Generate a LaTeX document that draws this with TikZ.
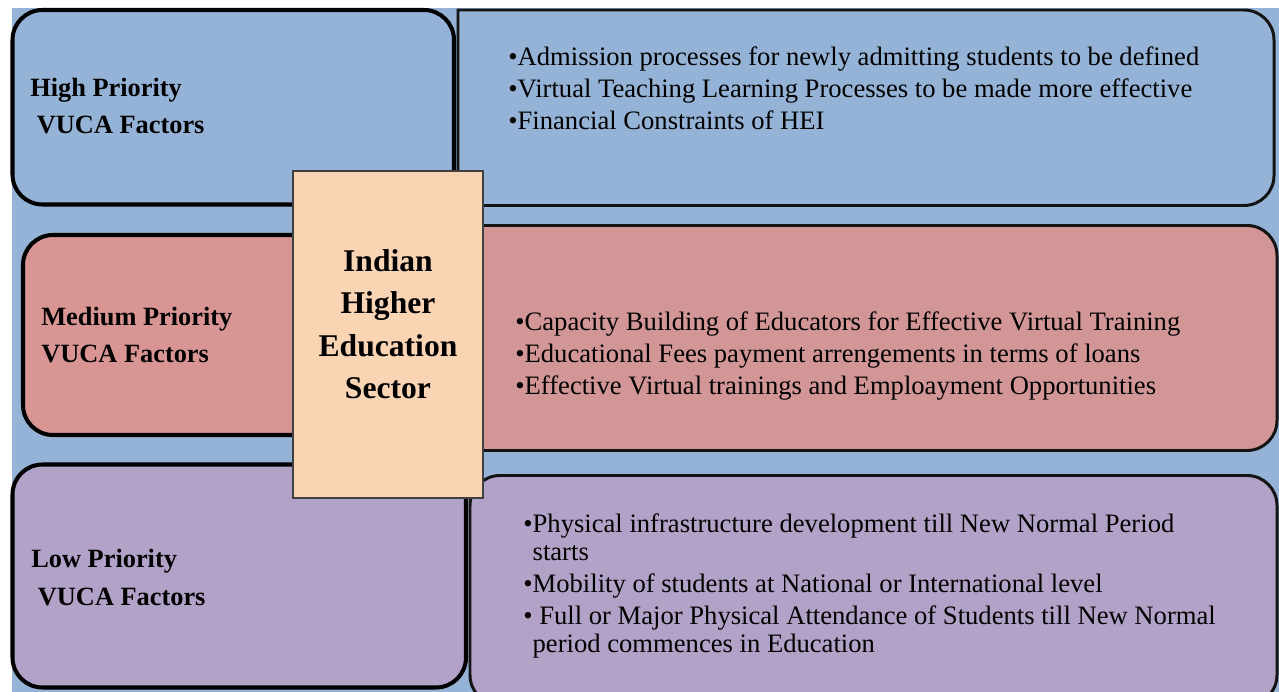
\documentclass[tikz,border=0pt]{standalone}
\usepackage{fontspec}
\setmainfont{Liberation Serif}
\definecolor{vucablue}{HTML}{95B3D7}
\definecolor{medleft}{HTML}{D99594}
\definecolor{medright}{HTML}{D39697}
\definecolor{lowpurp}{HTML}{B2A2C7}
\definecolor{peach}{HTML}{FBD4B4}
\tikzstyle{lbox} = [draw=black,line width=2.3pt,rounded corners=0.6cm]
\tikzstyle{rbox} = [draw=black!92,line width=1.7pt]
\tikzstyle{core} = [draw=black!75,fill=peach,line width=0.6pt]
\tikzstyle{lab} = [anchor=base west,align=left,inner sep=0pt,font=\fontsize{15}{21.6}\selectfont\bfseries]
\tikzstyle{items} = [anchor=base west,align=left,inner sep=0pt,font=\fontsize{15.15}{16}\selectfont]
\tikzstyle{title} = [anchor=base,align=center,inner sep=0pt,font=\fontsize{18}{24.2}\selectfont\bfseries]

\begin{document}
\begin{tikzpicture}[x=0.02cm,y=-0.02cm]

    \useasboundingbox (0,0) rectangle (1279,692);
    \fill[vucablue] (12,8) rectangle (1279,692);

% Draw the three priority rows

    \draw[rbox,fill=vucablue] (458,100) -- (458,10) [rounded corners=0.6cm] -- (1274,10) -- (1274,205.5) [sharp corners] -- (458,205.5) -- cycle;
    \draw[lbox,fill=vucablue] (12.5,10) rectangle (454,204.5);

    \draw[lbox,fill=medleft] (23,235) rectangle (420,435);
    \draw[rbox,rounded corners=0.6cm,fill=medright] (440,225.5) rectangle (1277,450.5);

    \draw[lbox,fill=lowpurp] (12.5,464.5) rectangle (466,687.5);
    \draw[rbox,rounded corners=0.6cm,fill=lowpurp] (470,475.5) rectangle (1277,705);

% Centre block (nodes are placed by their last baseline)

    \draw[core] (293,171) rectangle (483,498);
    \node[title] at (388,399) (sector) {Indian\\Higher\\Education\\Sector};

% Labels and factors

    \node[lab] at (30,134) (highlab) {High Priority\\\hspace*{.25em}VUCA Factors};
    \node[lab] at (41,363) (medlab) {Medium Priority\\VUCA Factors};
    \node[lab] at (31,605) (lowlab) {Low Priority\\\hspace*{.25em}VUCA Factors};

    \node[items] at (508,130) (highlist) {•Admission processes for newly admitting students to be defined\\[2.3pt]
        •Virtual Teaching Learning Processes to be made more effective\\[2.3pt]
        •Financial Constraints of HEI};
    \node[items] at (515,395) (medlist) {•Capacity Building of Educators for Effective Virtual Training\\[2.3pt]
        •Educational Fees payment arrengements in terms of loans\\[2.3pt]
        •Effective Virtual trainings and Emploayment Opportunities};
    \node[items] at (523,653) (lowlist) {•Physical infrastructure development till New Normal Period\\
        \phantom{•}starts\\[2.3pt]
        •Mobility of students at National or International level\\[2.3pt]
        • Full or Major Physical Attendance of Students till New Normal\\
        \phantom{•}period commences in Education};

\end{tikzpicture}
\end{document}
